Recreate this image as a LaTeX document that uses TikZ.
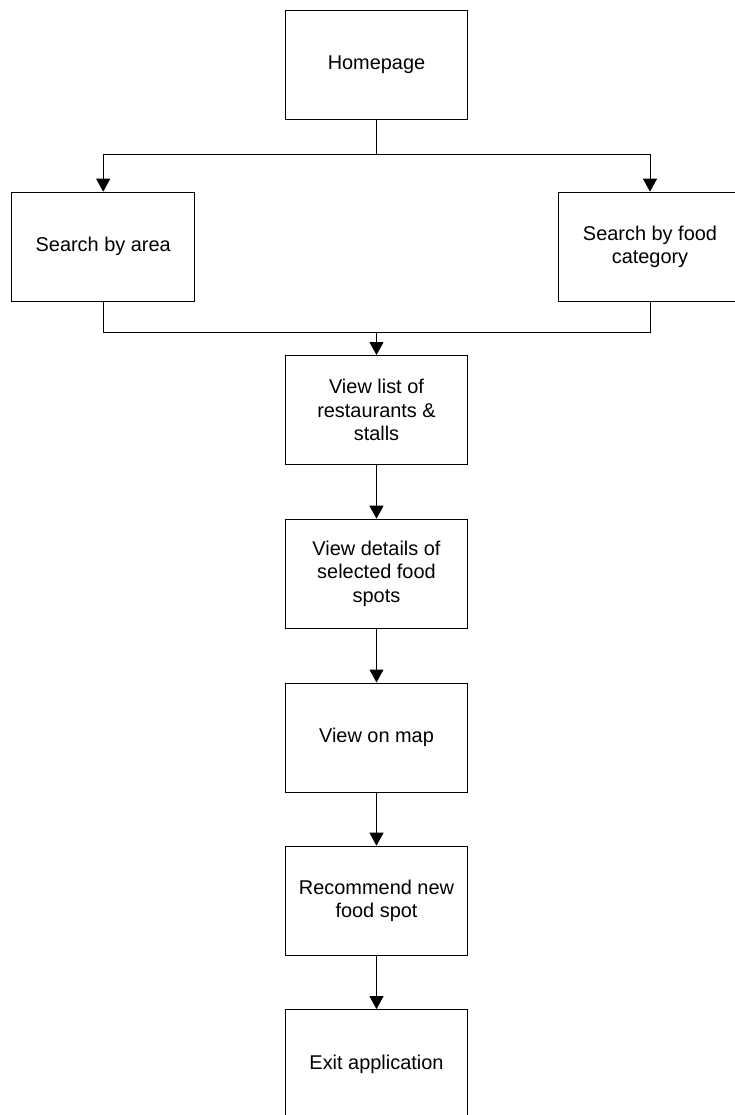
\documentclass[tikz,border=0pt]{standalone}
\usepackage{fontspec}
\setmainfont{Liberation Sans}
\usetikzlibrary{arrows.meta}
\begin{document}
\begin{tikzpicture}[x=1bp,y=-1bp,
  stepbox/.style={draw, line width=1bp, minimum width=182.4bp, minimum height=109bp,
    align=center, inner sep=0pt, font=\fontsize{20}{23.6}\selectfont},
  link/.style={line width=1bp, -{Triangle[width=14bp,length=13bp]}},
  plain/.style={line width=1bp}]
\useasboundingbox (0,0) rectangle (735,1115);

% process steps
\node[stepbox] (home)   at (376.5,64.8)  {Homepage};
\node[stepbox] (area)   at (103.2,246.7) {Search by area};
\node[stepbox] (cat)    at (650,246.7)   {Search by food\\category};
\node[stepbox] (list)   at (376.5,410)   {View list of\\restaurants \&\\stalls};
\node[stepbox] (detail) at (376.5,573.7) {View details of\\selected food\\spots};
\node[stepbox] (map)    at (376.5,737.5) {View on map};
\node[stepbox] (recom)  at (376.5,900.7) {Recommend new\\food spot};
\node[stepbox] (exit)   at (376.5,1064.1){Exit application};

% branch and merge points
\coordinate (split) at (376.5,154);
\coordinate (join)  at (376.5,332.3);

% connectors
\draw[plain] (home.south) -- (split);
\draw[link] (split) -| (area.north);
\draw[link] (split) -| (cat.north);
\draw[plain] (area.south) |- (join);
\draw[plain] (cat.south) |- (join);
\draw[link] (join) -- (list.north);
\draw[link] (list) -- (detail);
\draw[link] (detail) -- (map);
\draw[link] (map) -- (recom);
\draw[link] (recom) -- (exit);
\end{tikzpicture}
\end{document}
